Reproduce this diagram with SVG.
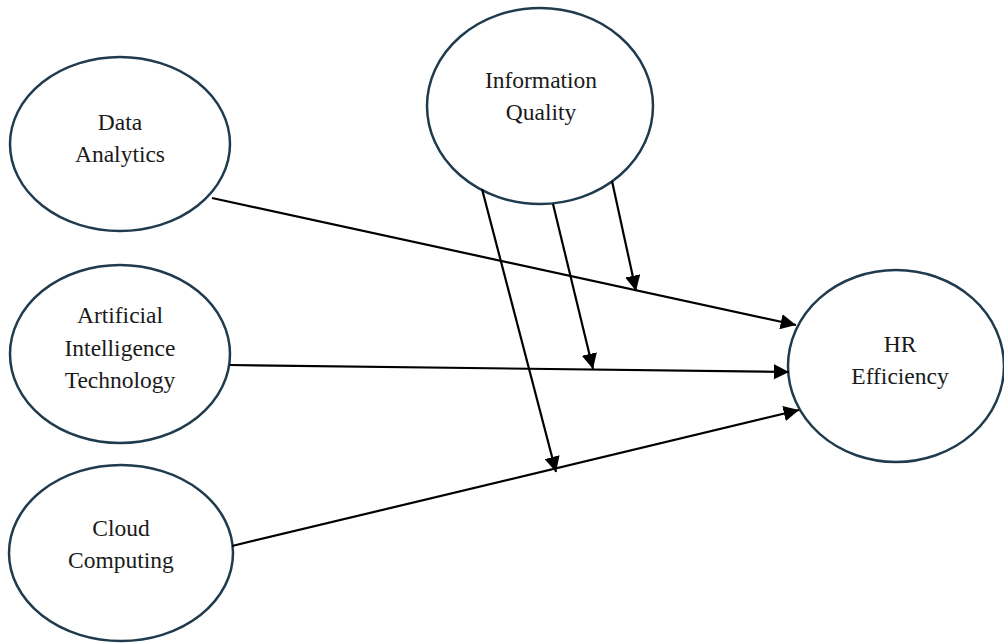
<svg xmlns="http://www.w3.org/2000/svg" width="1004" height="643" viewBox="0 0 1004 643">
  <style>
    .node ellipse { fill: #ffffff; stroke: #1f3b4d; stroke-width: 2.5; }
    .node text { font-size: 23.5px; fill: #1a1a1a; text-anchor: middle; }
    .edge { stroke: #000000; stroke-width: 2.2; fill: none; marker-end: url(#arrow); }
  </style>
  <defs>
    <marker id="arrow" viewBox="0 0 10 10" refX="10" refY="5" markerWidth="7" markerHeight="7" markerUnits="strokeWidth" orient="auto">
      <path d="M0,0 L10,5 L0,10 z" fill="#000000"/>
    </marker>
  </defs>
  <rect width="1004" height="643" fill="#ffffff"/>

  <g font-family="'Liberation Serif', 'DejaVu Serif', serif">
    <g id="data-analytics" class="node">
      <ellipse cx="120" cy="144" rx="110" ry="87"/>
      <text x="120" y="130">Data</text>
      <text x="120" y="162">Analytics</text>
    </g>

    <g id="information-quality" class="node">
      <ellipse cx="540" cy="106" rx="113" ry="98"/>
      <text x="541" y="88">Information</text>
      <text x="541" y="120">Quality</text>
    </g>

    <g id="ai-technology" class="node">
      <ellipse cx="120" cy="354" rx="110" ry="89"/>
      <text x="120" y="323">Artificial</text>
      <text x="120" y="356">Intelligence</text>
      <text x="120" y="388">Technology</text>
    </g>

    <g id="cloud-computing" class="node">
      <ellipse cx="121" cy="553" rx="112" ry="88"/>
      <text x="121" y="536">Cloud</text>
      <text x="121" y="568">Computing</text>
    </g>

    <g id="hr-efficiency" class="node">
      <ellipse cx="896" cy="366" rx="108" ry="96"/>
      <text x="900" y="352">HR</text>
      <text x="900" y="384">Efficiency</text>
    </g>
  </g>

  <g id="connectors">
    <line class="edge" x1="212" y1="198" x2="796" y2="325"/>
    <line class="edge" x1="230" y1="365" x2="789" y2="372"/>
    <line class="edge" x1="232" y1="546" x2="799" y2="410"/>
    <line class="edge" x1="612" y1="181" x2="636" y2="291"/>
    <line class="edge" x1="553" y1="204" x2="593" y2="369"/>
    <line class="edge" x1="482" y1="189" x2="556" y2="472"/>
  </g>
</svg>
